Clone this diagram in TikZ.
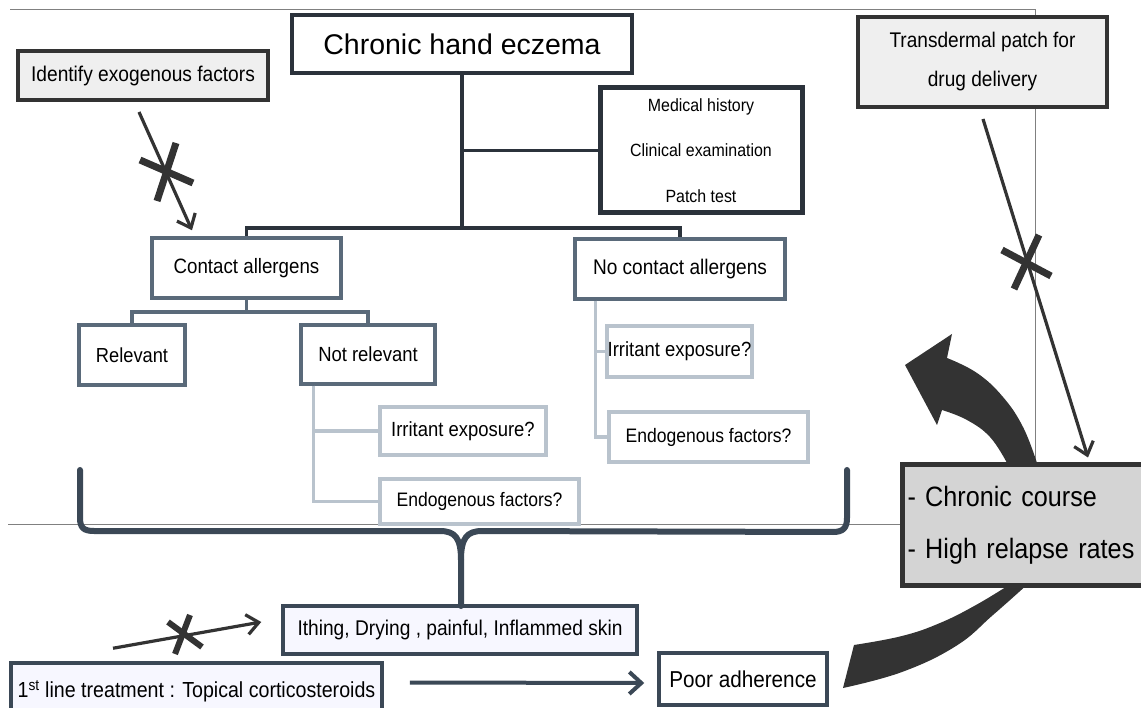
\documentclass[tikz,border=0pt]{standalone}
\usepackage{fontspec}
\setmainfont{Liberation Sans}
\newfontfamily\nf[FakeStretch=0.9]{Liberation Sans}
\newfontfamily\wf{Liberation Sans}
\usetikzlibrary{arrows.meta,calc}
\pgfdeclarelayer{bg}
\pgfsetlayers{bg,main}
\definecolor{dk}{HTML}{2B323B}
\definecolor{sl}{HTML}{5A6A7A}
\definecolor{lt}{HTML}{B9C3CD}
\definecolor{ds}{HTML}{3B4856}
\definecolor{gy}{HTML}{333333}
\definecolor{lf}{HTML}{EFEFEF}
\definecolor{cf}{HTML}{D4D4D4}
\definecolor{thin}{HTML}{808080}
\newcommand{\fs}[2]{\fontsize{#1}{#2}\selectfont}
\begin{document}
\begin{tikzpicture}[x=1pt,y=-1pt,
  bx/.style={draw, rectangle, inner sep=0pt, fill=white, text=black, align=center},
  topbox/.style={bx, draw=dk, line width=4},
  graybox/.style={bx, draw=gy, fill=lf, line width=4},
  midbox/.style={bx, draw=sl, line width=3.5},
  ltbox/.style={bx, draw=lt, line width=3.5},
  botbox/.style={bx, draw=ds, fill=white, line width=3.5},
  tree/.style={draw=dk, line width=3.5},
  subtree/.style={draw=sl, line width=3.5},
  lttree/.style={draw=lt, line width=3.5},
  arr/.style={draw=gy, line width=3.2, -{Straight Barb[length=12,width=20]}},
  cross/.style={draw=gy, line width=7},
  brace/.style={draw=ds, line width=6, line cap=round, line join=round},
  thinline/.style={draw=thin, line width=1}
]
\clip (0,0) rectangle (1141,708);
\useasboundingbox (0,0) rectangle (1141,708);

% boxes
\node[topbox, minimum width=340, minimum height=58, font={\wf\fs{28.5}{30}}] (che) at (462,44) {Chronic hand eczema};
\node[graybox, minimum width=250, minimum height=49, font={\nf\fs{21.3}{24}}] (idf) at (143,75.5) {Identify exogenous factors};
\node[graybox, minimum width=249, minimum height=90, font={\nf\fs{21.2}{39}}] (tdp) at (982.5,62) {Transdermal patch for\\drug delivery};
\node[topbox, line width=5, minimum width=202, minimum height=125, font={\nf\fs{17.7}{45.5}}] (med) at (701,150.5) {Medical history\\Clinical examination\\Patch test};
\node[midbox, minimum width=189, minimum height=60, font={\nf\fs{20.8}{24}}] (ca) at (246.5,268) {Contact allergens};
\node[midbox, minimum width=210, minimum height=60, font={\nf\fs{21.2}{24}}] (nca) at (680,269) {No contact allergens};
\node[midbox, minimum width=106, minimum height=60, font={\nf\fs{20.3}{24}}] (rel) at (132,355) {Relevant};
\node[midbox, minimum width=134, minimum height=59, font={\nf\fs{20.5}{24}}] (nrel) at (368,354.5) {Not relevant};
\node[ltbox, minimum width=166, minimum height=48, font={\nf\fs{20.5}{24}}] (ir1) at (463,431) {Irritant exposure?};
\node[ltbox, minimum width=199, minimum height=45, font={\nf\fs{19.5}{24}}] (en1) at (479.5,501.5) {Endogenous factors?};
\node[ltbox, minimum width=145, minimum height=51, font={\nf\fs{20.5}{24}}] (ir2) at (679.5,351.5) {Irritant exposure?};
\node[ltbox, minimum width=199, minimum height=50, font={\nf\fs{19.5}{24}}] (en2) at (708.5,437) {Endogenous factors?};
\node[botbox, fill=white!97!blue, minimum width=354, minimum height=48, font={\nf\fs{21.3}{24}}] (itc) at (460,630) {Ithing, Drying , painful, Inflammed skin};
\node[botbox, fill=white!97!blue, minimum width=371, minimum height=57, font={\nf\fs{21.8}{24}}] (fst) at (196.5,691.5) {\raisebox{3.5pt}{1\textsuperscript{st} line treatment : Topical corticosteroids}};
\node[botbox, minimum width=168, minimum height=52, font={\nf\fs{23}{26}}] (poor) at (743,679) {Poor adherence};
\node[bx, draw=gy, fill=cf, line width=5, minimum width=263, minimum height=120, text width=252, align=left, font={\nf\fs{28}{52}}] (ccr) at (1033.5,525) {- Chronic course\\- High relapse rates};

% tree connectors
\coordinate (j1) at (462,228);
\draw[tree] (che.south) -- (j1);
\draw[tree] (che.south |- med.west) -- (med.west);
\draw[tree] (ca.north) |- (j1) -| (nca.north);
\coordinate (j2) at (246.5,312);
\draw[subtree] (ca.south) -- (j2);
\draw[subtree] (rel.north) |- (j2) -| (nrel.north);
\draw[lttree] ($(nrel.south west)+(14,0)$) |- (ir1.west);
\draw[lttree] ($(nrel.south west)+(14,0)$) |- (en1.west);
\draw[lttree] ($(nca.south west)+(22,0)$) |- (ir2.west);
\draw[lttree] ($(nca.south west)+(22,0)$) |- (en2.west);

% blocked arrows
\draw[arr] ($(idf.south)+(-4,10)$) -- ($(ca.north)+(-54.5,-6)$);
\draw[cross] (140,160) -- (193,183);
\draw[cross] (176,143) -- (157,201);
\draw[arr] ($(tdp.south)+(0.5,10)$) -- ($(ccr.north)+(54.5,-5)$);
\draw[cross] (1002,250) -- (1051,276);
\draw[cross] (1039,235) -- (1014,289);
\draw[arr] ($(fst.north)+(-83.5,-13)$) -- ($(itc.west)+(-20,-8)$);
\draw[cross, line width=6] (168,622) -- (202,647);
\draw[cross, line width=6] (190,615) -- (175,654);

% treatment -> poor adherence
\draw[draw=ds, line width=4, -{Straight Barb[length=12,width=22]}] ($(fst.east)+(26,-9)$) -- ($(poor.west)+(-13,4)$);

% brace
\draw[brace] (80,470) -- (80,518) .. controls (80,528) and (84,531) .. (94,531) -- (440,531) .. controls (455,531) and (461,538) .. (461,560) -- (461,606);
\draw[brace] (847,470) -- (847,518) .. controls (847,528) and (843,532) .. (833,532) -- (482,531) .. controls (467,531) and (461,538) .. (461,560);

\begin{pgfonlayer}{bg}
\draw[thinline] (10,10) -- (1035,10) -- (1035,465);
\draw[thinline] (8,524) -- (902,524);
\fill[gy] plot[smooth,tension=0.7] coordinates {(843,688) (902,672) (956,646) (993,615) (1029,583)}
  -- plot[smooth,tension=0.7] coordinates {(1037,463) (1023,427) (1003,397) (977,373) (947,358)}
  -- (952,334) -- (905,365) -- (937,425)
  -- plot[smooth,tension=0.7] coordinates {(942,410) (967,420) (990,437) (1007,463)}
  -- plot[smooth,tension=0.7] coordinates {(1009,585) (976,605) (940,623) (902,636) (854,645)}
  -- cycle;
\end{pgfonlayer}
\end{tikzpicture}
\end{document}
